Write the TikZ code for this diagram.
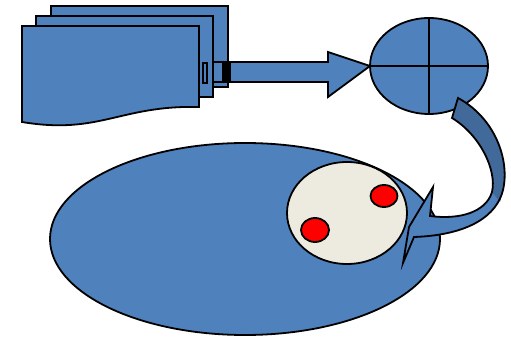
\documentclass[tikz,border=0pt]{standalone}
\usetikzlibrary{shapes.geometric}
\definecolor{mblue}{HTML}{4F81BD}
\definecolor{dblue}{HTML}{41699A}
\definecolor{cream}{HTML}{EDEBE0}
\tikzset{
  shp/.style={draw=black, line width=1.8pt, fill=mblue, line join=miter},
  oval/.style={ellipse, draw=black, line width=1.8pt, inner sep=0pt, outer sep=0pt},
}
\begin{document}
\begin{tikzpicture}[x=1pt,y=-1pt]
\useasboundingbox (0,0) rectangle (511,339);
% documents
\foreach \dx/\dy in {29/-20,14/-10,0/0}{
  \begin{scope}[shift={(\dx,\dy)}]
    \path[shp] (22,26) -- (199,26) -- (199,107) .. controls (120,105) and (100,135) .. (22,122) -- cycle;
  \end{scope}
}
% plug pieces
\path[draw=black, line width=1.4pt, fill=mblue] (203,63) rectangle (207,83);
\path[shp] (213,62) rectangle (223,82);
\path[fill=black] (222,61) rectangle (230,83);
% straight arrow
\node[oval, fill=mblue, minimum width=118pt, minimum height=96pt] (disk) at (429,66) {};
\path[shp] (230,62) -- (328,62) -- (328,52) -- (disk.west) -- (328,97) -- (328,82) -- (230,82) -- cycle;
\draw[line width=1.8pt] (disk.north) -- (disk.south);
\draw[line width=1.8pt] (disk.west) -- (disk.east);
% big ellipse
\node[oval, fill=mblue, minimum width=390pt, minimum height=192pt] (cell) at (245,239) {};
\node[oval, fill=cream, minimum width=120pt, minimum height=102pt] (nucleus) at (347,213) {};
\node[oval, fill=red, minimum width=27pt, minimum height=22pt] (dotA) at (384,196) {};
\node[oval, fill=red, minimum width=28pt, minimum height=24pt] (dotB) at (315,230) {};
% curved arrow
\path[fill=mblue] (458,98) .. controls (495,118) and (510,160) .. (503,190)
   .. controls (497,215) and (470,235) .. (414,237) -- (403,263) -- (409,227) -- (433,187) -- (430,216)
   .. controls (460,220) and (486,212) .. (492,192)
   .. controls (497,170) and (480,135) .. (452,118) -- cycle;
\path[fill=dblue] (458,98) .. controls (495,118) and (510,160) .. (503,190) -- (500,202) -- (492,192)
   .. controls (497,170) and (480,135) .. (452,118) -- cycle;
\draw[line width=1.8pt, line join=miter] (458,98) .. controls (495,118) and (510,160) .. (503,190)
   .. controls (497,215) and (470,235) .. (414,237) -- (403,263) -- (409,227) -- (433,187) -- (430,216)
   .. controls (460,220) and (486,212) .. (492,192)
   .. controls (497,170) and (480,135) .. (452,118) -- cycle;
\end{tikzpicture}
\end{document}
